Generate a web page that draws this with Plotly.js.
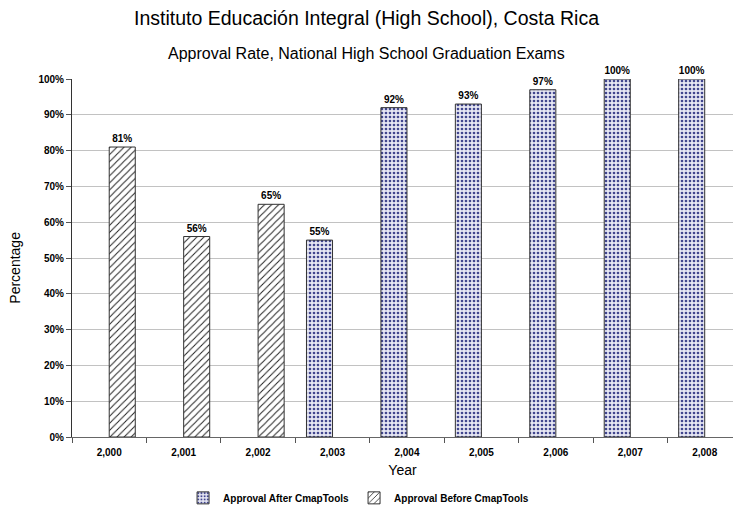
<!DOCTYPE html>
<html><head><meta charset="utf-8">
<script src="https://cdn.plot.ly/plotly-3.0.1.min.js"></script>
<style>html,body{margin:0;padding:0;background:#fff;}</style>
</head><body>
<div id="chart" style="width:733px;height:508px;"></div>
<script>
const years = ['2,000','2,001','2,002','2,003','2,004','2,005','2,006','2,007','2,008'];
const afterValues = [null, null, null, 55, 92, 93, 97, 100, 100];
const beforeValues = [81, 56, 65, null, null, null, null, null, null];
const yTicks = [0,10,20,30,40,50,60,70,80,90,100];
const yTickLabels = yTicks.map(v => v + '%');

const fontFam = '"Liberation Sans", Arial, sans-serif';
function labels(arr){ return arr.map(v => v === null ? '' : v + '%'); }

const traces = [
  {
    type: 'bar', name: 'Approval After CmapTools', x: years, y: afterValues,
    text: labels(afterValues), textposition: 'outside', cliponaxis: false, constraintext: 'none',
    textfont: {family: fontFam, size: 10, color: '#000', weight: 'bold'},
    marker: {color: '#e6e7f3', line: {color: '#333', width: 1},
      pattern: {shape: '.', fgcolor: '#41468e', bgcolor: '#e6e7f3', size: 4, solidity: 0.35}},
    hoverinfo: 'none'
  },
  {
    type: 'bar', name: 'Approval Before CmapTools', x: years, y: beforeValues,
    text: labels(beforeValues), textposition: 'outside', cliponaxis: false, constraintext: 'none',
    textfont: {family: fontFam, size: 10, color: '#000', weight: 'bold'},
    marker: {color: '#ffffff', line: {color: '#333', width: 1},
      pattern: {shape: '/', fgcolor: '#222', bgcolor: '#ffffff', size: 5, solidity: 0.2}},
    hoverinfo: 'none'
  }
];

const layout = {
  width: 733, height: 508,
  margin: {l: 72, r: 0, t: 79, b: 71, autoexpand: false},
  paper_bgcolor: '#fff', plot_bgcolor: '#fff',
  font: {family: fontFam, color: '#000'},
  barmode: 'group', bargap: 0.3, bargroupgap: 0,
  title: {text: 'Instituto Educación Integral (High School), Costa Rica',
    font: {family: fontFam, size: 19.5, color: '#000'}, x: 0.5, xanchor: 'center', y: 0.965, yanchor: 'middle'},
  annotations: [{
    text: 'Approval Rate, National High School Graduation Exams', xref: 'paper', yref: 'paper',
    x: 0.445, y: 1.07, xanchor: 'center', yanchor: 'middle', showarrow: false,
    font: {family: fontFam, size: 16, color: '#000'}
  }, {
    text: 'Percentage', xref: 'paper', yref: 'paper', x: 0, xshift: -57, y: 0.473,
    xanchor: 'center', yanchor: 'middle', textangle: -90, showarrow: false,
    font: {family: fontFam, size: 14, color: '#000'}
  }],
  xaxis: {
    type: 'category', range: [-0.5, 8.38],
    showline: true, linecolor: '#666', linewidth: 1,
    ticks: 'outside', ticklen: 5, tickcolor: '#555', tickson: 'boundaries',
    ticklabelstandoff: 6,
    tickfont: {family: fontFam, size: 10, color: '#000', weight: 'bold'},
    title: {text: 'Year', font: {family: fontFam, size: 14, color: '#000'}, standoff: 8},
    showgrid: false, zeroline: false, fixedrange: true
  },
  yaxis: {
    range: [0, 100], tickvals: yTicks, ticktext: yTickLabels,
    showline: true, linecolor: '#333', linewidth: 1,
    ticks: 'outside', ticklen: 5, tickcolor: '#555',
    tickfont: {family: fontFam, size: 10, color: '#000', weight: 'bold'},
    showgrid: true, gridcolor: '#c2c2c2', gridwidth: 1, zeroline: false,
    fixedrange: true
  },
  showlegend: true,
  legend: {orientation: 'h', x: 0.168, xanchor: 'left', y: -0.17, yanchor: 'middle',
    font: {family: fontFam, size: 10, color: '#000', weight: 'bold'}, itemwidth: 30, traceorder: 'normal'}
};

Plotly.newPlot('chart', traces, layout, {displayModeBar: false, staticPlot: true});
</script>
</body></html>
